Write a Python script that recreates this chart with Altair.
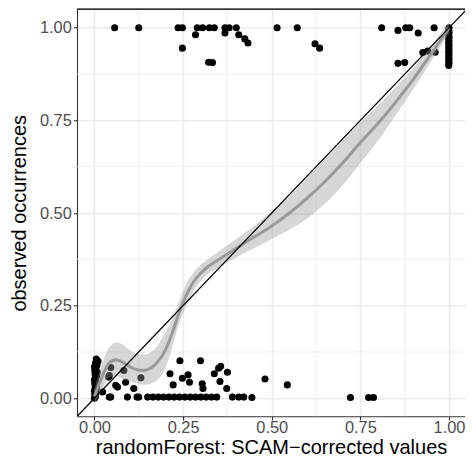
import altair as alt
import pandas as pd

# ---------------- data ----------------
# points near observed = 1 (jittered downward)
top_x = [0.057, 0.125, 0.236, 0.248, 0.290, 0.305, 0.285, 0.324, 0.338, 0.368,
         0.380, 0.400, 0.368, 0.407, 0.424, 0.433, 0.248, 0.322, 0.333, 0.515,
         0.572, 0.622, 0.635, 0.810, 0.856, 0.878, 0.889, 0.913, 0.958, 0.856,
         0.875, 0.926, 0.940, 0.961,
         1.000, 0.999, 1.000, 0.999, 1.000, 0.999, 1.000, 0.999, 1.000, 0.999,
         1.000, 0.999, 1.000, 0.999, 1.000, 0.999, 1.000, 0.999]
top_y = [1.000, 1.000, 1.000, 1.000, 1.000, 1.000, 0.981, 1.000, 1.000, 1.000,
         1.000, 1.000, 0.986, 0.981, 0.970, 0.959, 0.945, 0.907, 0.906, 1.000,
         1.000, 0.957, 0.945, 1.000, 0.993, 1.000, 1.000, 0.986, 1.000, 0.904,
         0.906, 0.933, 0.937, 0.934,
         1.000, 0.994, 0.988, 0.982, 0.976, 0.970, 0.964, 0.958, 0.952, 0.946,
         0.940, 0.934, 0.928, 0.922, 0.916, 0.910, 0.904, 0.898]

# points near observed = 0 (jittered upward)
bot_x = [0.000, 0.003, 0.001, 0.004, 0.000, 0.005, 0.002, 0.006, 0.001, 0.004,
         0.000, 0.003, 0.006, 0.002, 0.008, 0.001, 0.004, 0.000, 0.007, 0.003,
         0.010, 0.005,
         0.046, 0.042, 0.083, 0.040, 0.060, 0.065, 0.088, 0.111, 0.131, 0.023,
         0.042, 0.046, 0.093, 0.120, 0.125,
         0.150, 0.165, 0.180, 0.195, 0.210, 0.225, 0.240, 0.255, 0.270, 0.285,
         0.300, 0.315, 0.330, 0.345, 0.389, 0.407, 0.421, 0.444,
         0.241, 0.299, 0.213, 0.222, 0.248, 0.264, 0.268, 0.304, 0.306, 0.338,
         0.350, 0.356, 0.375, 0.354, 0.373, 0.481, 0.544, 0.722, 0.773, 0.787]
bot_y = [0.000, 0.005, 0.010, 0.015, 0.020, 0.025, 0.030, 0.035, 0.040, 0.045,
         0.050, 0.055, 0.060, 0.065, 0.070, 0.075, 0.080, 0.085, 0.090, 0.095,
         0.100, 0.106,
         0.083, 0.061, 0.075, 0.057, 0.035, 0.030, 0.043, 0.026, 0.055, 0.017,
         0.003, 0.003, 0.003, 0.003, 0.003,
         0.003, 0.003, 0.003, 0.003, 0.003, 0.003, 0.003, 0.003, 0.003, 0.003,
         0.003, 0.003, 0.003, 0.003, 0.003, 0.003, 0.003, 0.002,
         0.101, 0.101, 0.066, 0.036, 0.054, 0.063, 0.043, 0.039, 0.026, 0.066,
         0.081, 0.086, 0.070, 0.045, 0.026, 0.052, 0.036, 0.002, 0.002, 0.002]

# smoother and its confidence band
sm_x = [0.00, 0.02, 0.04, 0.06, 0.08, 0.10, 0.12, 0.14, 0.16, 0.18,
        0.20, 0.22, 0.24, 0.26, 0.28, 0.30, 0.32, 0.35, 0.40, 0.45,
        0.50, 0.55, 0.60, 0.65, 0.70, 0.75, 0.80, 0.85, 0.90, 0.95, 1.00]
sm_y = [0.005, 0.055, 0.093, 0.104, 0.097, 0.085, 0.077, 0.075, 0.082, 0.100,
        0.130, 0.178, 0.235, 0.280, 0.315, 0.338, 0.355, 0.374, 0.405, 0.435,
        0.465, 0.500, 0.540, 0.585, 0.635, 0.690, 0.742, 0.800, 0.862, 0.930, 1.000]
sm_lo = [-0.015, 0.020, 0.055, 0.060, 0.052, 0.045, 0.040, 0.036, 0.040, 0.052,
         0.080, 0.140, 0.205, 0.250, 0.290, 0.316, 0.335, 0.352, 0.380, 0.405,
         0.430, 0.455, 0.485, 0.525, 0.575, 0.635, 0.695, 0.765, 0.835, 0.910, 0.985]
sm_hi = [0.025, 0.090, 0.135, 0.150, 0.145, 0.130, 0.120, 0.118, 0.125, 0.145,
         0.178, 0.215, 0.265, 0.310, 0.340, 0.360, 0.375, 0.396, 0.430, 0.465,
         0.505, 0.545, 0.595, 0.645, 0.695, 0.745, 0.790, 0.840, 0.892, 0.952, 1.015]

# reference line y = x
ab_x = [-0.1, 1.1]

major_breaks = [0.0, 0.25, 0.5, 0.75, 1.0]
minor_breaks = [0.125, 0.375, 0.625, 0.875]

x_title = "randomForest: SCAM\u2212corrected values"
y_title = "observed occurrences"

# ---------------- tables ----------------
pts = pd.DataFrame({"x": top_x + bot_x, "y": top_y + bot_y})
smooth = pd.DataFrame({"x": sm_x, "y": sm_y, "lo": sm_lo, "hi": sm_hi})
ab = pd.DataFrame({"x": ab_x, "y": ab_x})
minor = pd.DataFrame({"v": minor_breaks})

W, H = 388, 407
FONT = "Liberation Sans"
BORDER = "#333333"
xs = alt.Scale(domain=[-0.0492, 1.045], nice=False, zero=False)
ys = alt.Scale(domain=[-0.0488, 1.0499], nice=False, zero=False)

x_axis = alt.Axis(values=major_breaks, format=".2f", title=x_title,
                  labelFontSize=16.4, labelColor="#4D4D4D", labelFont=FONT,
                  labelPadding=0, tickColor=BORDER, tickSize=3.7, tickWidth=1.1,
                  domain=True, domainColor=BORDER, domainWidth=1.1,
                  grid=True, gridColor="#EBEBEB", gridWidth=1.5,
                  titleFont=FONT, titleFontSize=20, titleFontWeight="normal",
                  titleColor="#000000", titlePadding=1.5, labelFlush=False)
y_axis = alt.Axis(values=major_breaks, format=".2f", title=y_title,
                  labelFontSize=16.4, labelColor="#4D4D4D", labelFont=FONT,
                  labelPadding=2, tickColor=BORDER, tickSize=3.7, tickWidth=1.1,
                  domain=True, domainColor=BORDER, domainWidth=1.1,
                  grid=True, gridColor="#EBEBEB", gridWidth=1.5,
                  titleFont=FONT, titleFontSize=20, titleFontWeight="normal",
                  titleColor="#000000", titlePadding=10, labelFlush=False)

minor_v = alt.Chart(minor).mark_rule(color="#EBEBEB", strokeWidth=0.8).encode(
    x=alt.X("v:Q", scale=xs, axis=x_axis))
minor_h = alt.Chart(minor).mark_rule(color="#EBEBEB", strokeWidth=0.8).encode(
    y=alt.Y("v:Q", scale=ys, axis=y_axis))

points = alt.Chart(pts).mark_circle(size=50, color="#000000", opacity=1).encode(
    x=alt.X("x:Q", scale=xs, axis=x_axis),
    y=alt.Y("y:Q", scale=ys, axis=y_axis))

band = alt.Chart(smooth).mark_area(color="#999999", opacity=0.4,
                                   interpolate="monotone").encode(
    x=alt.X("x:Q", scale=xs, axis=x_axis),
    y=alt.Y("lo:Q", scale=ys, axis=y_axis), y2="hi:Q")

line = alt.Chart(smooth).mark_line(color="#999999", strokeWidth=3,
                                   interpolate="monotone").encode(
    x=alt.X("x:Q", scale=xs, axis=x_axis),
    y=alt.Y("y:Q", scale=ys, axis=y_axis))

abline = alt.Chart(ab).mark_line(color="#000000", strokeWidth=1.3, clip=True).encode(
    x=alt.X("x:Q", scale=xs, axis=x_axis),
    y=alt.Y("y:Q", scale=ys, axis=y_axis))

# top edge of the panel border (the panel runs past the right edge of the image)
top_border = alt.Chart(minor).mark_rule(color=BORDER, strokeWidth=1.1).encode(
    x=alt.value(0), x2=alt.value(W), y=alt.value(0))

chart = alt.layer(minor_v, minor_h, points, band, line, abline, top_border).properties(
    width=W, height=H,
    autosize=alt.AutoSizeParams(type="none"),
    padding={"left": 69, "top": 1.3, "right": 0, "bottom": 43.5},
    background="#FFFFFF",
).configure_view(stroke=None)

chart.save("out.html", embed_options={"renderer": "svg", "actions": False})
